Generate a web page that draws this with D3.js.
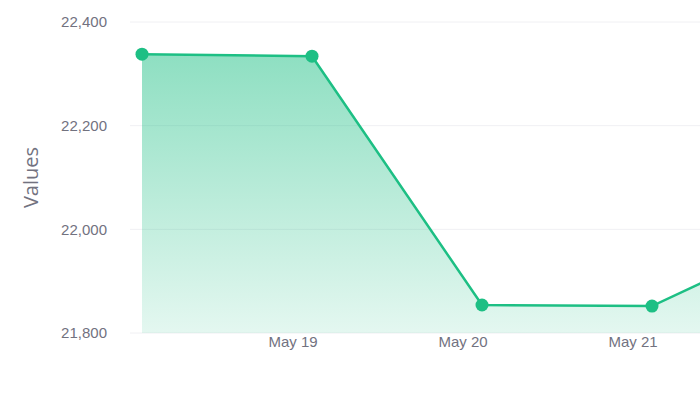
<!DOCTYPE html>
<html>
<head>
<meta charset="utf-8">
<script src="https://cdn.jsdelivr.net/npm/d3@7"></script>
<style>
  body { margin: 0; background: #fff; }
  svg { display: block; font-family: "Open Sans", sans-serif; }
  .tick text { fill: #72727f; font-size: 15px; }
</style>
</head>
<body>
<div id="chart"></div>
<script>
const dates = ['2024-05-18T02:45', '2024-05-19T02:45', '2024-05-20T02:45', '2024-05-21T02:45', '2024-05-22T02:45'];
const values = [22338, 22334, 21854, 21852, 22005];
const yTicks = [21800, 22000, 22200, 22400];
const xTicks = ['2024-05-19', '2024-05-20', '2024-05-21'];

const width = 700, height = 400;
const margin = { top: 22, left: 130, bottom: 67 };
const lineColor = '#1dbf84';

const parse = d3.timeParse('%Y-%m-%dT%H:%M');
const parseDay = d3.timeParse('%Y-%m-%d');
const data = dates.map((d, i) => ({ date: parse(d), value: values[i] }));

const svg = d3.select('#chart').append('svg')
  .attr('width', width)
  .attr('height', height);

// one day is ~170px, so the chart runs past the right edge
let x = d3.scaleTime()
  .domain([parse(dates[0]), parse(dates[dates.length - 1])])
  .range([142, 142 + 170 * 4]);

let y = d3.scaleLinear()
  .domain([21800, 22400])
  .range([height - margin.bottom, margin.top]);

let defs = svg.append('defs');
let grad = defs.append('linearGradient')
  .attr('id', 'fill')
  .attr('x1', 0).attr('x2', 0).attr('y1', 0).attr('y2', 1);
grad.append('stop').attr('offset', '0%')
  .attr('stop-color', lineColor).attr('stop-opacity', 0.5);
grad.append('stop').attr('offset', '100%')
  .attr('stop-color', lineColor).attr('stop-opacity', 0.12);

// grid
svg.append('g')
  .selectAll('line')
  .data(yTicks)
  .enter().append('line')
  .attr('x1', margin.left)
  .attr('x2', width)
  .attr('y1', d => y(d))
  .attr('y2', d => y(d))
  .attr('stroke', '#f0f0f3')
  .attr('stroke-width', 1);

// y axis
let yAxis = svg.append('g')
  .attr('transform', `translate(${margin.left - 20},0)`)
  .call(d3.axisLeft(y).tickValues(yTicks).tickFormat(d3.format(',')).tickSize(0));
yAxis.select('.domain').remove();

svg.append('text')
  .attr('transform', `translate(38,${(margin.top + height - margin.bottom) / 2}) rotate(-90)`)
  .attr('text-anchor', 'middle')
  .attr('fill', '#72727f')
  .attr('font-size', 20)
  .text('Values');

// x axis
let xAxis = svg.append('g')
  .attr('transform', `translate(0,${height - margin.bottom})`)
  .call(d3.axisBottom(x)
    .tickValues(xTicks.map(parseDay))
    .tickFormat(d3.timeFormat('%b %-d'))
    .tickSize(0));
xAxis.select('.domain').remove();

let area = d3.area()
  .x(d => x(d.date))
  .y0(y(21800))
  .y1(d => y(d.value));

let line = d3.line()
  .x(d => x(d.date))
  .y(d => y(d.value));

svg.append('path')
  .datum(data)
  .attr('d', area)
  .attr('fill', 'url(#fill)');

svg.append('path')
  .datum(data)
  .attr('d', line)
  .attr('fill', 'none')
  .attr('stroke', lineColor)
  .attr('stroke-width', 2.5);

svg.append('g')
  .selectAll('circle')
  .data(data)
  .enter().append('circle')
  .attr('cx', d => x(d.date))
  .attr('cy', d => y(d.value))
  .attr('r', 6.5)
  .attr('fill', lineColor);
</script>
</body>
</html>
